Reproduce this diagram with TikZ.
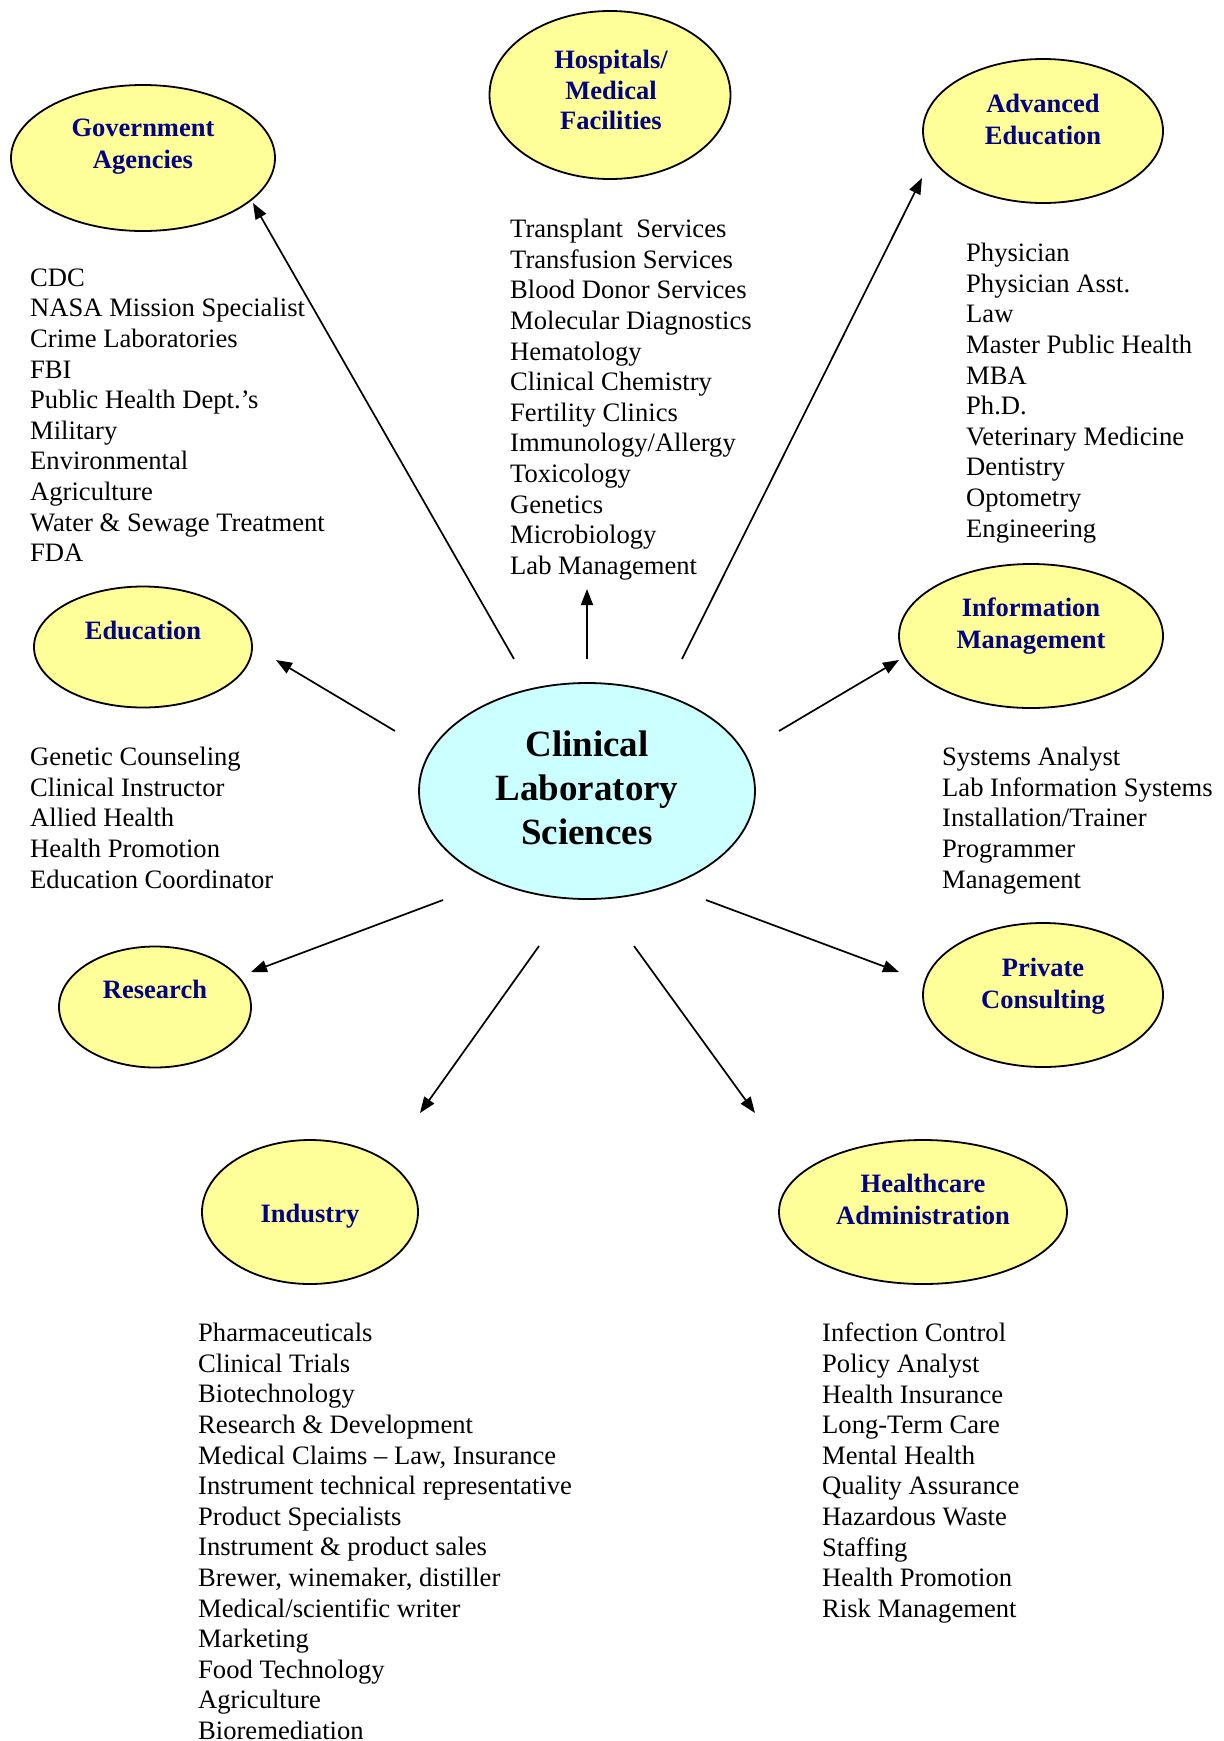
\documentclass[tikz,border=0pt]{standalone}
\usepackage{fontspec}
\setmainfont{Liberation Serif}
\usetikzlibrary{arrows.meta, shapes.geometric, positioning}
\definecolor{paleyellow}{RGB}{255,255,153}
\definecolor{paleturq}{RGB}{204,255,255}
\definecolor{navytext}{RGB}{0,0,128}

\begin{document}
\begin{tikzpicture}[x=1pt, y=-1pt,
  field/.style={draw, ellipse, line width=1.8pt, fill=paleyellow, inner sep=0pt},
  fieldtext/.style={font=\fontsize{26.5}{32}\selectfont\bfseries, text=navytext, align=center},
  joblist/.style={anchor=north west, inner sep=0pt, align=left, font=\fontsize{26.6}{30.6}\selectfont},
  arr/.style={-{Triangle[length=16pt, width=12pt]}, line width=1.7pt}]
  \useasboundingbox (0,0) rectangle (1224,1741);

  % centre
  \node[draw, ellipse, line width=1.8pt, fill=paleturq, minimum width=336pt, minimum height=216pt] (cls) at (587,791) {};
  \node[font=\fontsize{37}{44}\selectfont\bfseries, align=center] (clstext) at (587,788) {Clinical\\Laboratory\\Sciences};

  % the fields
  \node[field, minimum width=264pt, minimum height=146pt] (gov) at (143,158) {};
  \node[fieldtext] (govtext) at (143,147) {Government\\Agencies};
  \node[field, minimum width=241pt, minimum height=168pt] (hosp) at (610,95) {};
  \node[fieldtext, font=\fontsize{26.5}{30.6}\selectfont\bfseries] (hosptext) at (611,90) {Hospitals/\\Medical\\Facilities};
  \node[field, minimum width=240pt, minimum height=144pt] (adv) at (1043,131) {};
  \node[fieldtext] (advtext) at (1043,119) {Advanced\\Education};
  \node[field, minimum width=218pt, minimum height=121pt] (edu) at (143,647) {};
  \node[fieldtext] (edutext) at (143,630) {Education};
  \node[field, minimum width=264pt, minimum height=144pt] (info) at (1031,636) {};
  \node[fieldtext] (infotext) at (1031,626) {Information\\Management};
  \node[field, minimum width=192pt, minimum height=121pt] (res) at (155,1007) {};
  \node[fieldtext] (restext) at (155,989) {Research};
  \node[field, minimum width=240pt, minimum height=144pt] (priv) at (1043,995) {};
  \node[fieldtext] (privtext) at (1043,986) {Private\\Consulting};
  \node[field, minimum width=216pt, minimum height=144pt] (ind) at (310,1212) {};
  \node[fieldtext] (indtext) at (310,1216) {Industry};
  \node[field, minimum width=288pt, minimum height=144pt] (hca) at (923,1212) {};
  \node[fieldtext] (hcatext) at (923,1199) {Healthcare\\Administration};

  % the jobs
  \node[joblist] (govlist) at (30,268.5) {CDC\\NASA Mission Specialist\\Crime Laboratories\\FBI\\Public Health Dept.'s\\Military\\Environmental\\Agriculture\\Water \& Sewage Treatment\\FDA};
  \node[joblist] (hosplist) at (510,219) {Transplant~~Services\\Transfusion Services\\Blood Donor Services\\Molecular Diagnostics\\Hematology\\Clinical Chemistry\\Fertility Clinics\\Immunology/Allergy\\Toxicology\\Genetics\\Microbiology\\Lab Management};
  \node[joblist] (advlist) at (966,243) {Physician\\Physician Asst.\\Law\\Master Public Health\\MBA\\Ph.D.\\Veterinary Medicine\\Dentistry\\Optometry\\Engineering};
  \node[joblist] (edulist) at (30,747) {Genetic Counseling\\Clinical Instructor\\Allied Health\\Health Promotion\\Education Coordinator};
  \node[joblist] (infolist) at (942,747) {Systems Analyst\\Lab Information Systems\\Installation/Trainer\\Programmer\\Management};
  \node[joblist] (indlist) at (198,1323) {Pharmaceuticals\\Clinical Trials\\Biotechnology\\Research \& Development\\Medical Claims -- Law, Insurance\\Instrument technical representative\\Product Specialists\\Instrument \& product sales\\Brewer, winemaker, distiller\\Medical/scientific writer\\Marketing\\Food Technology\\Agriculture\\Bioremediation};
  \node[joblist] (hcalist) at (822,1323) {Infection Control\\Policy Analyst\\Health Insurance\\Long-Term Care\\Mental Health\\Quality Assurance\\Hazardous Waste\\Staffing\\Health Promotion\\Risk Management};

  % arrow ends
  \coordinate (govfrom) at (514,659);   \coordinate (govto) at (253,203);
  \coordinate (hospfrom) at (587,659);  \coordinate (hospto) at (587,589);
  \coordinate (advfrom) at (682,659);   \coordinate (advto) at (922,178);
  \coordinate (edufrom) at (395,731);   \coordinate (eduto) at (276,660);
  \coordinate (infofrom) at (779,731);  \coordinate (infoto) at (899,660);
  \coordinate (resfrom) at (443,900);   \coordinate (resto) at (251,972);
  \coordinate (privfrom) at (706,900);  \coordinate (privto) at (899,972);
  \coordinate (indfrom) at (539,946);   \coordinate (indto) at (420,1113);
  \coordinate (hcafrom) at (634,946);   \coordinate (hcato) at (755,1113);

  \foreach \f in {gov, hosp, adv, edu, info, res, priv, ind, hca}
    \draw[arr] (\f from) -- (\f to);
\end{tikzpicture}
\end{document}
